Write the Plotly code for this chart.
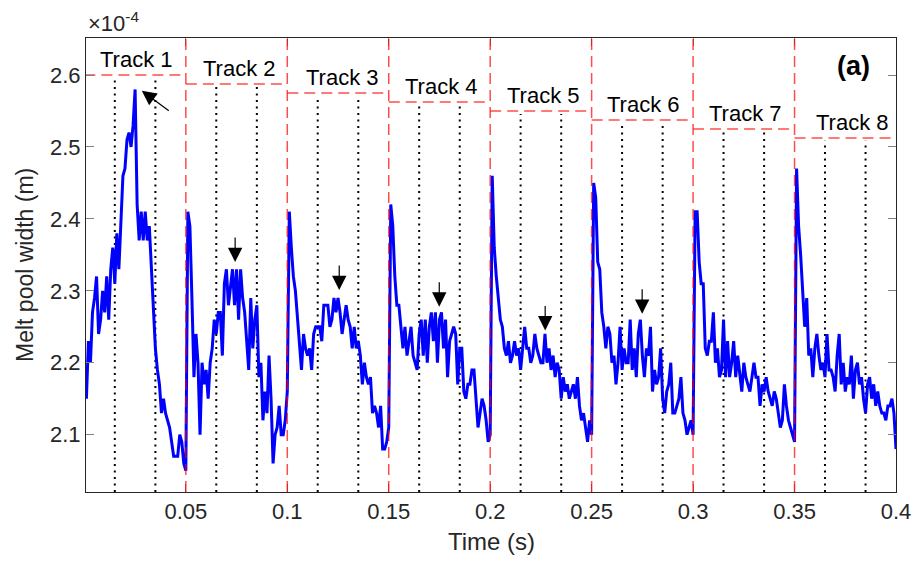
import numpy as np
import plotly.graph_objects as go

# ---------------- data (melt pool width in units of 1e-4 m) ----------------
time_step_s = 0.001
track_width_1 = [2.15, 2.23, 2.20, 2.27, 2.29, 2.32, 2.24, 2.26, 2.30, 2.27,
                 2.32, 2.26, 2.33, 2.36, 2.31, 2.38, 2.33, 2.39, 2.46, 2.47,
                 2.51, 2.52, 2.50, 2.53, 2.58, 2.42, 2.37, 2.41, 2.37, 2.41,
                 2.37, 2.39, 2.33, 2.28, 2.22, 2.19, 2.17, 2.13, 2.15, 2.13,
                 2.12, 2.11, 2.09, 2.07, 2.07, 2.07, 2.10, 2.09, 2.06, 2.05]
track_width_2 = [2.41, 2.39, 2.29, 2.18, 2.24, 2.20, 2.10, 2.20, 2.17, 2.19,
                 2.15, 2.20, 2.22, 2.26, 2.24, 2.27, 2.27, 2.21, 2.31, 2.33,
                 2.28, 2.31, 2.33, 2.28, 2.33, 2.26, 2.33, 2.29, 2.27, 2.23,
                 2.19, 2.29, 2.22, 2.26, 2.28, 2.18, 2.20, 2.12, 2.16, 2.13,
                 2.21, 2.15, 2.06, 2.10, 2.11, 2.14, 2.10, 2.10, 2.12, 2.16]
track_width_3 = [2.41, 2.36, 2.32, 2.30, 2.26, 2.23, 2.19, 2.24, 2.22, 2.21,
                 2.22, 2.19, 2.24, 2.25, 2.25, 2.25, 2.23, 2.28, 2.28, 2.28,
                 2.25, 2.26, 2.29, 2.27, 2.29, 2.27, 2.24, 2.26, 2.28, 2.26,
                 2.25, 2.22, 2.25, 2.22, 2.23, 2.21, 2.17, 2.20, 2.18, 2.17,
                 2.18, 2.13, 2.14, 2.13, 2.11, 2.14, 2.08, 2.08, 2.09, 2.11]
track_width_4 = [2.42, 2.39, 2.32, 2.28, 2.28, 2.25, 2.22, 2.25, 2.21, 2.23,
                 2.25, 2.21, 2.20, 2.19, 2.24, 2.26, 2.21, 2.26, 2.20, 2.25,
                 2.27, 2.23, 2.27, 2.20, 2.26, 2.27, 2.22, 2.26, 2.18, 2.23,
                 2.24, 2.25, 2.24, 2.17, 2.22, 2.22, 2.16, 2.15, 2.17, 2.17,
                 2.19, 2.19, 2.15, 2.11, 2.13, 2.15, 2.14, 2.12, 2.09, 2.10]
track_width_5 = [2.46, 2.36, 2.32, 2.29, 2.26, 2.25, 2.22, 2.21, 2.23, 2.20,
                 2.21, 2.23, 2.21, 2.22, 2.19, 2.22, 2.25, 2.22, 2.22, 2.20,
                 2.21, 2.24, 2.22, 2.21, 2.20, 2.20, 2.24, 2.20, 2.22, 2.19,
                 2.21, 2.18, 2.20, 2.19, 2.15, 2.18, 2.16, 2.17, 2.15, 2.16,
                 2.17, 2.15, 2.18, 2.14, 2.12, 2.13, 2.11, 2.09, 2.12, 2.10]
track_width_6 = [2.45, 2.43, 2.34, 2.33, 2.27, 2.25, 2.22, 2.25, 2.24, 2.20,
                 2.21, 2.17, 2.20, 2.25, 2.19, 2.22, 2.20, 2.20, 2.26, 2.19,
                 2.22, 2.18, 2.24, 2.26, 2.21, 2.18, 2.22, 2.21, 2.25, 2.16,
                 2.19, 2.17, 2.18, 2.22, 2.15, 2.13, 2.16, 2.17, 2.20, 2.13,
                 2.13, 2.14, 2.15, 2.18, 2.13, 2.12, 2.10, 2.11, 2.12, 2.10]
track_width_7 = [2.41, 2.41, 2.34, 2.31, 2.31, 2.22, 2.21, 2.23, 2.23, 2.27,
                 2.20, 2.22, 2.18, 2.19, 2.26, 2.18, 2.23, 2.18, 2.20, 2.23,
                 2.18, 2.21, 2.18, 2.16, 2.20, 2.18, 2.17, 2.16, 2.18, 2.20,
                 2.18, 2.18, 2.14, 2.17, 2.16, 2.18, 2.16, 2.15, 2.14, 2.16,
                 2.15, 2.13, 2.11, 2.12, 2.17, 2.14, 2.12, 2.11, 2.10, 2.09]
track_width_8 = [2.47, 2.39, 2.35, 2.30, 2.25, 2.29, 2.21, 2.22, 2.18, 2.22,
                 2.24, 2.21, 2.19, 2.20, 2.18, 2.24, 2.19, 2.19, 2.18, 2.16,
                 2.21, 2.24, 2.17, 2.20, 2.16, 2.18, 2.17, 2.21, 2.15, 2.19,
                 2.20, 2.17, 2.18, 2.15, 2.13, 2.17, 2.18, 2.15, 2.17, 2.14,
                 2.16, 2.14, 2.13, 2.13, 2.12, 2.14, 2.14, 2.15, 2.13, 2.08]

track_names = ["Track 1", "Track 2", "Track 3", "Track 4",
               "Track 5", "Track 6", "Track 7", "Track 8"]
track_start = [0.0, 0.05, 0.10, 0.15, 0.20, 0.25, 0.30, 0.35]
track_end = [0.05, 0.10, 0.15, 0.20, 0.25, 0.30, 0.35, 0.40]
track_level = [2.6, 2.5875, 2.575, 2.5625, 2.55, 2.5375, 2.525, 2.5125]
track_label_x = [0.0255, 0.0763, 0.127, 0.176, 0.2264, 0.2758, 0.3256, 0.3784]
dotted_a = [0.015, 0.065, 0.115, 0.165, 0.215, 0.265, 0.315, 0.365]
dotted_b = [0.035, 0.085, 0.135, 0.185, 0.235, 0.285, 0.335, 0.385]

# arrows: tip position (time, width) and tail pixel offset
arrow_x = [0.0283, 0.0743, 0.1256, 0.1749, 0.2271, 0.2749]
arrow_y = [2.578, 2.340, 2.301, 2.278, 2.245, 2.268]
arrow_ax = [30, 0, 0, 0, 0, 0]
arrow_ay = [22, -33, -33, -33, -33, -33]

x_tick_vals = [0.05, 0.1, 0.15, 0.2, 0.25, 0.3, 0.35, 0.4]
x_tick_text = ["0.05", "0.1", "0.15", "0.2", "0.25", "0.3", "0.35", "0.4"]
y_tick_vals = [2.1, 2.2, 2.3, 2.4, 2.5, 2.6]
y_tick_text = ["2.1", "2.2", "2.3", "2.4", "2.5", "2.6"]

# ---------------- build ----------------
width = np.array(track_width_1 + track_width_2 + track_width_3 + track_width_4
                 + track_width_5 + track_width_6 + track_width_7 + track_width_8)
time = np.arange(1, len(width) + 1) * time_step_s

FONT = "Liberation Sans, Arial, Helvetica, sans-serif"
TXT = "#262626"
RED = "rgba(255,0,0,0.7)"

fig = go.Figure()
fig.add_trace(go.Scatter(x=time, y=width, mode="lines",
                         line=dict(color="#0000FF", width=3),
                         showlegend=False, hoverinfo="skip"))

shapes = []
for i in range(8):
    shapes.append(dict(type="line", xref="x", yref="y",
                       x0=track_start[i], x1=track_end[i],
                       y0=track_level[i], y1=track_level[i],
                       line=dict(color=RED, width=1.5, dash="11px,6px"), layer="below"))
    for xd in (dotted_a[i], dotted_b[i]):
        shapes.append(dict(type="line", xref="x", yref="y",
                           x0=xd, x1=xd, y0=2.0203, y1=track_level[i] - 0.004,
                           line=dict(color="black", width=2, dash="2px,4.5px"),
                           layer="below"))
    if i > 0:
        shapes.append(dict(type="line", xref="x", yref="paper",
                           x0=track_start[i], x1=track_start[i], y0=0, y1=1,
                           line=dict(color=RED, width=1.5, dash="11px,6px"),
                           layer="above"))

annotations = []
for i in range(8):
    annotations.append(dict(x=track_label_x[i], y=track_level[i] + 0.002,
                            xref="x", yref="y", text=track_names[i],
                            showarrow=False, yanchor="bottom", xanchor="center",
                            font=dict(family=FONT, size=22, color="black")))
for i in range(len(arrow_x)):
    annotations.append(dict(x=arrow_x[i], y=arrow_y[i], xref="x", yref="y",
                            ax=arrow_ax[i], ay=arrow_ay[i], text=" ",
                            showarrow=True, arrowhead=2, arrowsize=2.4,
                            arrowwidth=1.2, arrowcolor="black", standoff=0))
annotations.append(dict(x=0.3789, y=2.6125, xref="x", yref="y",
                        text="<b>(a)</b>", showarrow=False,
                        font=dict(family=FONT, size=27, color="black")))
annotations.append(dict(x=0.0, y=1.0, xref="paper", yref="paper",
                        text="×10<sup>-4</sup>", showarrow=False,
                        xanchor="left", yanchor="bottom", yshift=0,
                        font=dict(family=FONT, size=22, color=TXT)))
# axis titles
annotations.append(dict(x=0.5, y=0, xref="paper", yref="paper",
                        text="Time (s)", showarrow=False,
                        xanchor="center", yanchor="top", yshift=-34,
                        font=dict(family=FONT, size=24, color=TXT)))
annotations.append(dict(x=0, y=0.5, xref="paper", yref="paper",
                        text="Melt pool width (m)", showarrow=False,
                        textangle=-90, xanchor="center", yanchor="middle",
                        xshift=-61,
                        font=dict(family=FONT, size=23, color=TXT)))

fig.update_layout(
    width=915, height=562,
    margin=dict(l=86, r=19, t=38, b=70, autoexpand=False),
    paper_bgcolor="white", plot_bgcolor="white",
    shapes=shapes, annotations=annotations,
    font=dict(family=FONT, color=TXT),
    xaxis=dict(range=[0.0008, 0.4], tickvals=x_tick_vals, ticktext=x_tick_text,
               ticks="inside", ticklen=8, tickcolor="#808080", tickwidth=1,
               showline=True, linecolor=TXT, linewidth=1, mirror="ticks",
               showgrid=False, zeroline=False, automargin=False,
               tickfont=dict(family=FONT, size=22, color=TXT)),
    yaxis=dict(range=[2.0203, 2.6515], tickvals=y_tick_vals, ticktext=y_tick_text,
               ticks="inside", ticklen=8, tickcolor="#808080", tickwidth=1,
               showline=True, linecolor=TXT, linewidth=1, mirror="ticks",
               showgrid=False, zeroline=False, automargin=False,
               tickfont=dict(family=FONT, size=22, color=TXT)),
)

fig.write_html("out.html")
